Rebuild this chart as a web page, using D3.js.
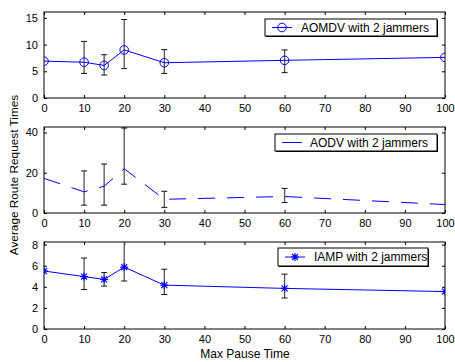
<!DOCTYPE html>
<html>
<head>
<meta charset="utf-8">
<script src="https://cdn.jsdelivr.net/npm/d3@7"></script>
<style>
  body { margin: 0; background: #fff; }
  svg { display: block; font-family: Arial, "Liberation Sans", sans-serif; }
  .tick text { font-size: 11px; fill: #000; }
</style>
</head>
<body>
<svg id="chart" width="455" height="362"></svg>
<script>
const pauseTimes = [0, 10, 15, 20, 30, 60, 100];
const xTicks = [0, 10, 20, 30, 40, 50, 60, 70, 80, 90, 100];

const aomdvMean = [6.9, 6.7, 6.1, 9.0, 6.6, 7.05, 7.6];
const aomdvLow = [null, 4.6, 4.3, 5.5, 4.6, 4.75, null];
const aomdvHigh = [null, 10.6, 8.1, 14.7, 9.05, 9.0, null];

const aodvMean = [17.2, 10.5, 13.3, 22.0, 6.8, 8.2, 4.2];
const aodvLow = [null, 3.9, 3.9, 14.3, 2.8, 5.2, null];
const aodvHigh = [null, 20.9, 24.3, 42.2, 10.8, 12.2, null];

const iampMean = [5.5, 4.97, 4.7, 5.87, 4.16, 3.85, 3.55];
const iampLow = [null, 3.75, 4.07, 4.55, 3.27, 2.94, null];
const iampHigh = [null, 6.73, 5.35, 8.6, 5.67, 5.2, null];

const panels = [
  { name: "AOMDV with 2 jammers", mean: aomdvMean, low: aomdvLow, high: aomdvHigh,
    yMax: 16.1, yTicks: [0, 5, 10, 15], top: 12, bottom: 98, marker: "circle", dash: null,
    legend: { x0: 265, x1: 437, y0: 19, y1: 36, l0: 272, l1: 292, tx: 301 } },
  { name: "AODV with 2 jammers", mean: aodvMean, low: aodvLow, high: aodvHigh,
    yMax: 42.7, yTicks: [0, 20, 40], top: 127, bottom: 213, marker: null, dash: "17,12",
    legend: { x0: 275, x1: 437, y0: 134, y1: 151, l0: 282, l1: 302, tx: 310 } },
  { name: "IAMP with 2 jammers", mean: iampMean, low: iampLow, high: iampHigh,
    yMax: 8.25, yTicks: [0, 2, 4, 6, 8], top: 242, bottom: 329, marker: "star", dash: null,
    legend: { x0: 278, x1: 428, y0: 248, y1: 266, l0: 285, l1: 305, tx: 314 } }
];

const svg = d3.select("#chart");
const left = 44, right = 445;
const blue = "#0000ff";

const x = d3.scaleLinear().domain([0, 100]).range([left, right]);

function drawMarker(g, type, cx, cy) {
  if (type === "circle") {
    g.append("circle").attr("cx", cx).attr("cy", cy).attr("r", 4.3)
      .attr("fill", "none").attr("stroke", blue).attr("stroke-width", 1);
  } else if (type === "star") {
    const r = 4;
    const p = d3.path();
    p.moveTo(cx - r, cy); p.lineTo(cx + r, cy);
    p.moveTo(cx, cy - r); p.lineTo(cx, cy + r);
    const d = r * 0.75;
    p.moveTo(cx - d, cy - d); p.lineTo(cx + d, cy + d);
    p.moveTo(cx - d, cy + d); p.lineTo(cx + d, cy - d);
    g.append("path").attr("d", p.toString()).attr("stroke", blue).attr("stroke-width", 1.2).attr("fill", "none");
  }
}

panels.forEach((pn, i) => {
  const y = d3.scaleLinear().domain([0, pn.yMax]).range([pn.bottom, pn.top]);
  const g = svg.append("g");

  svg.append("clipPath").attr("id", "clip" + i)
    .append("rect").attr("x", left).attr("y", pn.top).attr("width", right - left).attr("height", pn.bottom - pn.top);

  // axes with inward ticks on all four sides
  g.append("g").attr("transform", `translate(0,${pn.bottom})`)
    .call(d3.axisBottom(x).tickValues(xTicks).tickSize(-3).tickPadding(6).tickFormat(d3.format("d")))
    .call(a => a.select(".domain").remove());
  g.append("g").attr("transform", `translate(0,${pn.top})`)
    .call(d3.axisTop(x).tickValues(xTicks).tickSize(-3).tickFormat(""))
    .call(a => a.select(".domain").remove());
  g.append("g").attr("transform", `translate(${left},0)`)
    .call(d3.axisLeft(y).tickValues(pn.yTicks).tickSize(-3).tickPadding(6))
    .call(a => a.select(".domain").remove());
  g.append("g").attr("transform", `translate(${right},0)`)
    .call(d3.axisRight(y).tickValues(pn.yTicks).tickSize(-3).tickFormat(""))
    .call(a => a.select(".domain").remove());
  g.selectAll(".tick line").attr("stroke", "#000");

  g.append("rect").attr("x", left).attr("y", pn.top).attr("width", right - left).attr("height", pn.bottom - pn.top)
    .attr("fill", "none").attr("stroke", "#000").attr("stroke-width", 1);

  const plot = g.append("g").attr("clip-path", `url(#clip${i})`);
  const pts = pauseTimes.map((t, k) => ({ t, m: pn.mean[k], lo: pn.low[k], hi: pn.high[k] }));

  // error bars
  pts.filter(d => d.lo != null).forEach(d => {
    const cx = x(d.t);
    plot.append("line").attr("x1", cx).attr("x2", cx).attr("y1", y(d.lo)).attr("y2", y(d.hi))
      .attr("stroke", "#555").attr("stroke-width", 1.3);
    [d.lo, d.hi].forEach(v => {
      plot.append("line").attr("x1", cx - 3).attr("x2", cx + 3).attr("y1", y(v)).attr("y2", y(v))
        .attr("stroke", "#111").attr("stroke-width", 1);
    });
  });

  const line = d3.line().x(d => x(d.t)).y(d => y(d.m));
  plot.append("path").datum(pts).attr("d", line).attr("fill", "none")
    .attr("stroke", blue).attr("stroke-width", 1)
    .attr("stroke-dasharray", pn.dash);

  if (pn.marker) pts.forEach(d => drawMarker(plot, pn.marker, x(d.t), y(d.m)));

  // legend
  const L = pn.legend;
  g.append("rect").attr("x", L.x0 + 1).attr("y", L.y0 + 1).attr("width", L.x1 - L.x0).attr("height", L.y1 - L.y0)
    .attr("fill", "#000");
  g.append("rect").attr("x", L.x0).attr("y", L.y0).attr("width", L.x1 - L.x0).attr("height", L.y1 - L.y0)
    .attr("fill", "#fff").attr("stroke", "#000").attr("stroke-width", 1);
  const ly = (L.y0 + L.y1) / 2;
  g.append("line").attr("x1", L.l0).attr("x2", L.l1).attr("y1", ly).attr("y2", ly)
    .attr("stroke", blue).attr("stroke-width", 1);
  if (pn.marker) drawMarker(g, pn.marker, (L.l0 + L.l1) / 2, ly);
  g.append("text").attr("x", L.tx).attr("y", ly + 4.2).attr("font-size", 12).text(pn.name);
});

svg.append("text").attr("x", 245).attr("y", 358).attr("text-anchor", "middle")
  .attr("font-size", 12).text("Max Pause Time");
svg.append("text").attr("transform", "translate(18,175) rotate(-90)").attr("text-anchor", "middle")
  .attr("font-size", 11.8).text("Average Route Request Times");
</script>
</body>
</html>
